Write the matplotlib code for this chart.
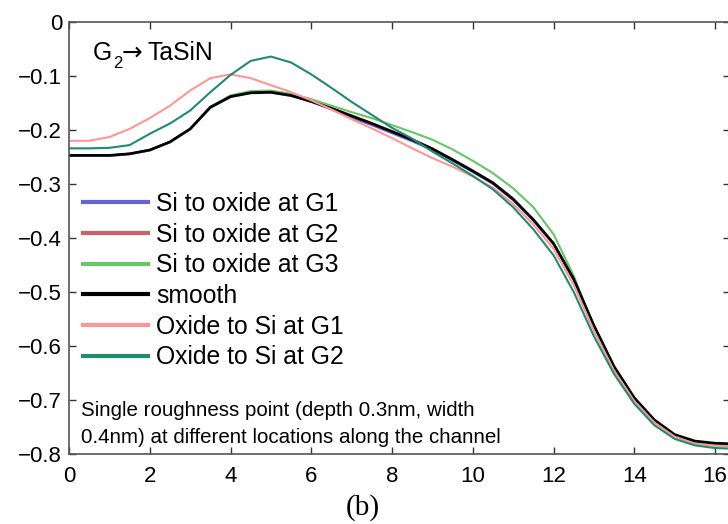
import matplotlib
matplotlib.use("Agg")
import matplotlib.pyplot as plt
import numpy as np

plt.rcParams['font.family'] = ['Liberation Sans', 'DejaVu Sans']

# position along the channel
x = [0, 0.5, 1.0, 1.5, 2.0, 2.5, 3.0, 3.5, 4.0, 4.5, 5.0, 5.5, 6.0, 6.5, 7.0, 7.5,
     8.0, 8.5, 9.0, 9.5, 10.0, 10.5, 11.0, 11.5, 12.0, 12.5, 13.0, 13.5, 14.0,
     14.5, 15.0, 15.5, 16.0, 16.4]

smooth = [-0.247, -0.247, -0.247, -0.244, -0.237, -0.222, -0.198, -0.158, -0.138,
          -0.131, -0.130, -0.136, -0.147, -0.160, -0.174, -0.188, -0.203, -0.218,
          -0.235, -0.255, -0.276, -0.298, -0.328, -0.366, -0.410, -0.476, -0.562,
          -0.638, -0.696, -0.737, -0.764, -0.776, -0.780, -0.781]
si_g1 = [-0.248, -0.248, -0.248, -0.245, -0.238, -0.223, -0.199, -0.159, -0.139,
         -0.132, -0.131, -0.137, -0.148, -0.162, -0.177, -0.191, -0.206, -0.221,
         -0.237, -0.257, -0.278, -0.300, -0.330, -0.368, -0.412, -0.478, -0.564,
         -0.640, -0.698, -0.739, -0.766, -0.778, -0.782, -0.783]
si_g2 = [-0.247, -0.247, -0.247, -0.244, -0.237, -0.222, -0.198, -0.157, -0.137,
         -0.130, -0.129, -0.135, -0.146, -0.159, -0.173, -0.187, -0.202, -0.217,
         -0.234, -0.254, -0.275, -0.297, -0.327, -0.366, -0.411, -0.477, -0.563,
         -0.639, -0.697, -0.738, -0.765, -0.777, -0.781, -0.782]
si_g3 = [-0.247, -0.247, -0.247, -0.244, -0.237, -0.222, -0.198, -0.157, -0.136,
         -0.128, -0.127, -0.133, -0.143, -0.155, -0.167, -0.178, -0.191, -0.204,
         -0.218, -0.236, -0.257, -0.280, -0.308, -0.343, -0.393, -0.470, -0.565,
         -0.643, -0.700, -0.741, -0.767, -0.779, -0.783, -0.784]
ox_g1 = [-0.220, -0.220, -0.213, -0.198, -0.178, -0.155, -0.127, -0.104, -0.097,
         -0.104, -0.117, -0.130, -0.145, -0.162, -0.180, -0.197, -0.215, -0.234,
         -0.252, -0.268, -0.286, -0.307, -0.337, -0.375, -0.420, -0.487, -0.572,
         -0.646, -0.702, -0.742, -0.768, -0.781, -0.785, -0.786]
ox_g2 = [-0.234, -0.234, -0.233, -0.228, -0.207, -0.188, -0.164, -0.130, -0.098,
         -0.072, -0.064, -0.075, -0.097, -0.122, -0.148, -0.172, -0.196, -0.216,
         -0.240, -0.262, -0.285, -0.310, -0.343, -0.384, -0.432, -0.500, -0.582,
         -0.652, -0.707, -0.747, -0.772, -0.784, -0.789, -0.790]

labels = ['Si to oxide at G1', 'Si to oxide at G2', 'Si to oxide at G3',
          'smooth', 'Oxide to Si at G1', 'Oxide to Si at G2']
colors = ['#6464d2', '#c86464', '#64c864', '#000000', '#ff9696', '#1e8c6e']
widths = [1.5, 1.5, 1.5, 1.9, 1.5, 1.5]
series = [si_g1, si_g2, si_g3, smooth, ox_g1, ox_g2]

fig = plt.figure(figsize=(7.28, 5.24), dpi=100)
ax = fig.add_axes([69 / 728, 70 / 524, 661 / 728, 432 / 524])

for ys, c, lw, lab in zip(series, colors, widths, labels):
    ax.plot(x, ys, color=c, lw=lw, label=lab)

ax.set_xlim(0, 16.37)
ax.set_ylim(-0.8, 0)
ax.set_xticks(np.arange(0, 17, 2))
ax.set_yticks(np.arange(-0.8, 0.01, 0.1))
ax.set_yticklabels(['\u22120.8', '\u22120.7', '\u22120.6', '\u22120.5', '\u22120.4',
                    '\u22120.3', '\u22120.2', '\u22120.1', '0'])
ax.tick_params(direction='in', length=5, width=1, labelsize=16,
               top=True, right=True, colors='#333333', labelcolor='black')
ax.tick_params(axis='x', pad=9)
ax.tick_params(axis='y', pad=5)
for s in ax.spines.values():
    s.set_color('#555555')
    s.set_linewidth(1.2)

leg = ax.legend(loc='upper left', bbox_to_anchor=(83 / 728, 1 - 192 / 524),
                bbox_transform=fig.transFigure, frameon=False, fontsize=17.8,
                handlelength=2.63, handletextpad=0.32, labelspacing=0.27,
                borderpad=0, borderaxespad=0)
for h in leg.get_lines():
    h.set_linewidth(3)

# G2 -> TaSiN label, pieced together
fig.text(93 / 728, 1 - 60 / 524, 'G', fontsize=17.8, va='baseline')
fig.text(113 / 728, 1 - 68 / 524, '2', fontsize=12, va='baseline')
fig.text(122 / 728, 1 - 60 / 524, '\u2192', fontsize=17.8, family='DejaVu Sans',
         va='baseline')
fig.text(148 / 728, 1 - 60 / 524, 'TaSiN', fontsize=17.8, va='baseline')

fig.text(81 / 728, 1 - 416 / 524, 'Single roughness point (depth 0.3nm, width',
         fontsize=14.8, va='baseline')
fig.text(81 / 728, 1 - 443 / 524, '0.4nm) at different locations along the channel',
         fontsize=14.8, va='baseline')
fig.text(363 / 728, 1 - 508 / 524, '(b)', fontsize=21, family='Liberation Serif',
         ha='center', va='center')

fig.savefig('out.png', dpi=100)
